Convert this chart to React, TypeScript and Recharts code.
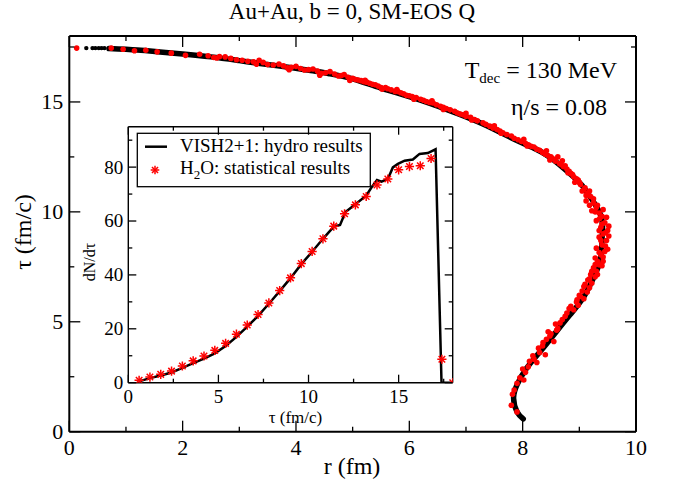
import React from 'react';
import { ComposedChart, Line, Scatter, XAxis, YAxis } from 'recharts';

const FONT = '"Liberation Serif", "Times New Roman", serif';

// freeze-out surface tau(r), hydro (black)
const surfaceR = [0.7, 1.2, 1.6, 2.0, 2.5, 3.0, 3.4, 4.0, 4.3, 4.6, 5.0, 5.5, 6.1, 6.7, 7.3, 7.9, 8.2, 8.5, 8.85, 9.05, 9.2, 9.37, 9.41, 9.4, 9.37, 9.25, 9.07, 8.84, 8.6, 8.31, 8.07, 7.9, 7.84, 7.9, 8.01];
const surfaceTau = [17.43, 17.36, 17.27, 17.18, 17.05, 16.88, 16.74, 16.53, 16.42, 16.28, 16.05, 15.63, 15.16, 14.62, 14.0, 13.24, 12.9, 12.45, 11.7, 11.2, 10.65, 9.9, 9.3, 8.7, 7.8, 7.0, 6.1, 5.33, 4.57, 3.65, 2.89, 2.13, 1.52, 0.91, 0.58];

// isolated hydro cells near the centre
const coreR = [0.3, 0.41, 0.46, 0.52, 0.57, 0.62];
const coreTau = [17.45, 17.45, 17.45, 17.45, 17.45, 17.45];

// statistical (H2O) emission points (red)
const statPoints: [number, number][] = [
  [0.13, 17.45], [0.74, 17.45], [0.95, 17.4], [1.15, 17.33], [1.35, 17.35], [1.55, 17.28], [1.8, 17.22], [2.05, 17.12],
  [2.3, 17.17], [2.6, 17.0], [2.75, 17.05], [2.95, 16.92], [3.15, 16.85], [3.35, 16.9], [3.5, 16.7], [3.7, 16.72],
  [3.85, 16.55], [4.0, 16.62], [4.15, 16.45], [4.3, 16.5], [4.45, 16.3], [4.6, 16.38], [4.75, 16.18], [4.85, 16.25],
  [5.0, 16.08], [5.1, 16.0], [5.2, 15.92], [5.3, 15.85], [5.4, 15.78], [5.5, 15.66], [5.62, 15.6], [5.75, 15.48],
  [5.85, 15.42], [5.95, 15.3], [6.05, 15.25], [6.2, 15.12], [6.3, 15.02], [6.42, 14.95], [6.55, 14.8], [6.65, 14.7],
  [6.8, 14.58], [6.9, 14.45], [7.0, 14.35], [7.15, 14.2], [7.3, 14.05], [7.42, 13.9], [7.55, 13.75], [7.65, 13.6],
  [7.8, 13.45], [7.92, 13.28], [8.05, 13.12], [8.15, 12.98], [8.25, 12.85], [8.35, 12.7], [8.45, 12.55], [8.55, 12.4],
  [8.62, 12.5], [8.65, 12.2], [8.72, 12.05], [8.78, 11.95], [8.85, 11.75], [8.9, 11.6], [8.98, 11.45], [9.02, 11.25],
  [9.1, 11.1], [9.05, 10.95], [9.15, 10.85], [9.2, 10.7], [9.12, 10.5], [9.25, 10.4], [9.3, 10.2], [9.22, 10.05],
  [9.35, 9.95], [9.4, 9.8], [9.3, 9.6], [9.45, 9.5], [9.38, 9.3], [9.5, 9.15], [9.42, 9.0], [9.35, 8.85],
  [9.48, 8.7], [9.4, 8.5], [9.3, 8.35], [9.45, 8.2], [9.38, 8.05], [9.28, 7.9], [9.42, 7.75], [9.35, 7.6],
  [9.25, 7.45], [9.3, 7.3], [9.2, 7.15], [9.28, 7.05], [9.15, 6.9], [9.1, 6.7], [9.18, 6.55], [9.05, 6.4],
  [9.0, 6.2], [9.08, 6.05], [8.95, 5.9], [8.85, 5.7], [8.9, 5.55], [8.78, 5.4], [8.7, 5.1], [8.58, 4.9],
  [8.62, 4.7], [8.5, 4.45], [8.42, 4.2], [8.55, 4.1], [8.35, 3.9], [8.3, 3.6], [8.4, 3.5], [8.2, 3.3],
  [8.25, 3.15], [8.1, 2.95], [8.05, 2.7], [7.95, 2.45], [7.9, 2.2], [7.85, 1.9], [7.82, 1.7], [7.8, 1.2], [7.9, 0.9],
  [2.45, 17.1], [2.55, 17.02], [2.65, 17.06], [2.85, 16.98], [3.05, 16.9], [3.25, 16.83], [3.42, 16.8], [3.6, 16.68],
  [3.78, 16.64], [3.92, 16.58], [4.08, 16.52], [4.22, 16.47], [4.38, 16.4], [4.52, 16.33], [4.68, 16.27], [4.8, 16.2],
  [4.92, 16.12], [5.05, 16.02], [5.15, 15.97], [5.25, 15.9], [5.35, 15.8], [5.45, 15.72], [5.58, 15.65], [5.68, 15.55],
  [5.8, 15.47], [5.9, 15.37], [6.0, 15.28], [6.12, 15.2], [6.25, 15.08], [6.36, 14.98], [6.48, 14.87], [6.6, 14.76],
  [6.72, 14.64], [6.85, 14.5], [6.95, 14.42], [7.08, 14.3], [7.2, 14.14], [7.35, 13.98], [7.48, 13.82], [7.6, 13.68],
  [7.72, 13.52], [7.85, 13.35], [7.98, 13.2], [8.1, 13.05], [8.2, 12.95], [8.3, 12.8], [8.4, 12.62], [8.5, 12.5],
  [8.58, 12.3], [8.68, 12.15], [8.75, 12.1], [8.82, 11.85], [8.88, 11.7], [8.95, 11.5], [8.92, 11.35], [9.0, 11.35],
  [9.08, 11.0], [9.18, 10.95], [9.12, 10.75], [9.25, 10.6], [9.18, 10.3], [9.32, 10.3], [9.28, 10.0], [9.42, 10.1],
  [9.36, 9.7], [9.48, 9.75], [9.4, 9.45], [9.52, 9.35], [9.35, 9.15], [9.46, 9.05], [9.52, 8.9], [9.38, 8.7],
  [9.46, 8.45], [9.5, 8.3], [9.35, 8.15], [9.42, 7.95], [9.32, 7.75], [9.4, 7.55], [9.28, 7.6], [9.22, 7.3],
  [9.32, 7.15], [9.18, 6.95], [9.22, 6.75], [9.08, 6.6], [9.14, 6.35], [9.02, 6.15], [8.96, 6.0], [8.98, 5.75],
  [8.82, 5.6], [8.75, 5.25], [8.66, 4.95], [8.6, 4.62], [8.48, 4.35], [8.45, 4.55], [8.36, 4.05], [8.28, 3.8],
  [8.18, 3.45], [8.12, 3.2], [8.0, 2.85], [8.02, 2.35],
  [3.3, 16.72], [3.88, 16.47], [4.42, 16.22], [4.95, 15.98], [5.52, 15.58], [6.08, 15.12], [6.6, 14.66], [7.1, 14.18],
  [7.62, 13.58], [8.08, 13.0], [8.48, 12.36], [8.8, 11.78], [5.22, 15.99], [5.78, 15.56], [6.4, 15.05], [7.0, 14.48],
  [7.5, 13.92], [8.02, 13.3], [8.42, 12.78], [8.7, 12.32],
];

// inset: dN/dtau
const hydroDN: [number, number][] = [
  [0.6, 0.5], [1.2, 1.7], [1.8, 2.7], [2.4, 3.8], [3.0, 5.5], [3.6, 7.3], [4.2, 8.9], [4.8, 10.9], [5.4, 13.6],
  [6.0, 17.0], [6.6, 20.8], [7.2, 24.8], [7.8, 29.3], [8.4, 34.0], [9.0, 38.8], [9.6, 44.0], [10.2, 48.6],
  [10.8, 53.4], [11.4, 57.9], [11.75, 58.5], [12.05, 63.3], [12.6, 66.2], [13.2, 69.4], [13.5, 72.5], [13.8, 75.2],
  [14.05, 74.6], [14.4, 75.6], [14.68, 79.9], [14.96, 81.2], [15.33, 82.4], [15.79, 82.8], [16.16, 84.9],
  [16.62, 85.2], [17.05, 86.6], [17.38, 0], [18.0, 0],
];
const statTau = [0.6, 1.2, 1.8, 2.4, 3.0, 3.6, 4.2, 4.8, 5.4, 6.0, 6.6, 7.2, 7.8, 8.4, 9.0, 9.6, 10.2, 10.8, 11.4, 12.0, 12.6, 13.2, 13.8, 14.4, 15.0, 15.6, 16.2, 16.8, 17.4, 18.0];
const statDN = [0.9, 2.1, 3.1, 4.3, 6.2, 8.1, 9.9, 12.0, 14.6, 18.0, 21.4, 25.3, 29.6, 34.2, 38.9, 44.2, 48.7, 53.4, 58.1, 62.7, 66.0, 69.1, 73.4, 75.6, 79.0, 80.2, 80.5, 83.2, 8.7, 0.0];

const mainXTicks = [0, 1, 2, 3, 4, 5, 6, 7, 8, 9, 10];
const mainYTicks = [0, 2.5, 5, 7.5, 10, 12.5, 15, 17.5];
const insetXTicks = [0, 2.5, 5, 7.5, 10, 12.5, 15, 17.5];
const insetYTicks = [0, 10, 20, 30, 40, 50, 60, 70, 80, 90];

const zip = (xs: number[], ys: number[]) => xs.map((x, i) => ({ x, y: ys[i] }));
const fromPairs = (p: [number, number][]) => p.map(([x, y]) => ({ x, y }));

const isMultiple = (v: number, step: number) => Math.abs(v / step - Math.round(v / step)) < 1e-6;

// inward ticks, xmgrace style
function makeTick(side: 'bottom' | 'left' | 'top' | 'right', step: number, major: number, minor: number, fontSize: number, labels: boolean, offset: number) {
  return (props: any) => {
    const { x, y, payload } = props;
    const v = payload.value;
    const isMajor = isMultiple(v, step);
    const len = isMajor ? major : minor;
    let line;
    if (side === 'bottom') line = <line x1={x} y1={y} x2={x} y2={y - len} />;
    else if (side === 'top') line = <line x1={x} y1={y} x2={x} y2={y + len} />;
    else if (side === 'left') line = <line x1={x} y1={y} x2={x + len} y2={y} />;
    else line = <line x1={x} y1={y} x2={x - len} y2={y} />;
    return (
      <g>
        <g stroke="#000" strokeWidth={1.3}>{line}</g>
        {labels && isMajor && (
          side === 'bottom' ? (
            <text x={x} y={y + offset} textAnchor="middle" fontSize={fontSize} fontFamily={FONT} fill="#000">{v}</text>
          ) : (
            <text x={x - offset} y={y + fontSize * 0.34} textAnchor="end" fontSize={fontSize} fontFamily={FONT} fill="#000">{v}</text>
          )
        )}
      </g>
    );
  };
}

const axisLine = { stroke: '#000', strokeWidth: 2 };
const thinAxis = { stroke: '#000', strokeWidth: 1.4 };

function Asterisk({ cx, cy, size = 4.6 }: { cx: number; cy: number; size?: number }) {
  const d = size * 0.707;
  return (
    <g stroke="#ff0000" strokeWidth={1.5}>
      <line x1={cx - size} y1={cy} x2={cx + size} y2={cy} />
      <line x1={cx} y1={cy - size} x2={cx} y2={cy + size} />
      <line x1={cx - d} y1={cy - d} x2={cx + d} y2={cy + d} />
      <line x1={cx - d} y1={cy + d} x2={cx + d} y2={cy - d} />
    </g>
  );
}

function MainChart() {
  return (
    <ComposedChart width={683} height={485} margin={{ top: 35, right: 46, left: 29.3, bottom: 23.3 }}>
      <XAxis xAxisId="b" dataKey="x" type="number" domain={[0, 10]} ticks={mainXTicks} interval={0} tickSize={0} tickMargin={0} height={30}
        axisLine={axisLine} tickLine={false} tick={makeTick('bottom', 2, 11, 5, 22, true, 23)} allowDataOverflow />
      <XAxis xAxisId="t" orientation="top" dataKey="x" type="number" domain={[0, 10]} ticks={mainXTicks} interval={0} tickSize={0} tickMargin={0} height={1}
        axisLine={axisLine} tickLine={false} tick={makeTick('top', 2, 11, 5, 22, false, 0)} allowDataOverflow />
      <YAxis yAxisId="l" type="number" domain={[0, 18]} ticks={mainYTicks} interval={0} tickSize={0} tickMargin={0} width={40}
        axisLine={axisLine} tickLine={false} tick={makeTick('left', 5, 11, 5, 22, true, 6)} allowDataOverflow />
      <YAxis yAxisId="r" orientation="right" type="number" domain={[0, 18]} ticks={mainYTicks} interval={0} tickSize={0} tickMargin={0} width={1}
        axisLine={axisLine} tickLine={false} tick={makeTick('right', 5, 11, 5, 22, false, 0)} allowDataOverflow />
      <Line xAxisId="b" yAxisId="l" data={zip(surfaceR, surfaceTau)} dataKey="y" type="natural" dot={false} stroke="#000"
        strokeWidth={5.5} strokeLinecap="round" strokeLinejoin="round" isAnimationActive={false} />
      <Scatter xAxisId="b" yAxisId="l" data={zip(coreR, coreTau)} dataKey="y" isAnimationActive={false}
        shape={(p: any) => <circle cx={p.cx} cy={p.cy} r={2.2} fill="#000" />} />
      <Scatter xAxisId="b" yAxisId="l" data={fromPairs(statPoints)} dataKey="y" isAnimationActive={false}
        shape={(p: any) => <circle cx={p.cx} cy={p.cy} r={2.8} fill="#ff0000" />} />
    </ComposedChart>
  );
}

function InsetChart() {
  return (
    <ComposedChart width={390} height={300} margin={{ top: 15.7, right: 16.3, left: 18.3, bottom: 7.3 }}>
      <XAxis xAxisId="b" dataKey="x" type="number" domain={[0, 18]} ticks={insetXTicks} interval={0} tickSize={0} tickMargin={0} height={20}
        axisLine={thinAxis} tickLine={false} tick={makeTick('bottom', 5, 8, 4, 19, true, 20)} allowDataOverflow />
      <XAxis xAxisId="t" orientation="top" dataKey="x" type="number" domain={[0, 18]} ticks={insetXTicks} interval={0} tickSize={0} tickMargin={0} height={1}
        axisLine={thinAxis} tickLine={false} tick={makeTick('top', 5, 8, 4, 19, false, 0)} allowDataOverflow />
      <YAxis yAxisId="l" type="number" domain={[0, 95]} ticks={insetYTicks} interval={0} tickSize={0} tickMargin={0} width={30}
        axisLine={thinAxis} tickLine={false} tick={makeTick('left', 20, 8, 4, 19, true, 5)} allowDataOverflow />
      <YAxis yAxisId="r" orientation="right" type="number" domain={[0, 95]} ticks={insetYTicks} interval={0} tickSize={0} tickMargin={0} width={1}
        axisLine={thinAxis} tickLine={false} tick={makeTick('right', 20, 8, 4, 19, false, 0)} allowDataOverflow />
      <Line xAxisId="b" yAxisId="l" data={fromPairs(hydroDN)} dataKey="y" type="linear" dot={false} stroke="#000"
        strokeWidth={2.5} isAnimationActive={false} />
      <Scatter xAxisId="b" yAxisId="l" data={zip(statTau, statDN)} dataKey="y" isAnimationActive={false}
        shape={(p: any) => <Asterisk cx={p.cx} cy={p.cy} />} />
    </ComposedChart>
  );
}

export default function App() {
  return (
    <div style={{ position: 'absolute', left: 0, top: 0, width: 683, height: 485, background: '#fff' }}>
      <div style={{ position: 'absolute', left: 0, top: 0 }}>
        <MainChart />
      </div>
      <div style={{ position: 'absolute', left: 80, top: 110 }}>
        <InsetChart />
      </div>
      <svg width={683} height={485} style={{ position: 'absolute', left: 0, top: 0, pointerEvents: 'none' }} fontFamily={FONT}>
        <text x={352} y={19} textAnchor="middle" fontSize={23}>Au+Au, b = 0, SM-EOS Q</text>
        <text x={617} y={78} textAnchor="end" fontSize={24}>
          T<tspan fontSize={15} dy={5}>dec</tspan><tspan dy={-5}> = 130 MeV</tspan>
        </text>
        <text x={607} y={115} textAnchor="end" fontSize={24}>η/s = 0.08</text>
        <text x={352} y={474} textAnchor="middle" fontSize={24}>r (fm)</text>
        <text transform="translate(31,232) rotate(-90)" textAnchor="middle" fontSize={24}>τ (fm/c)</text>
        <text transform="translate(95,262) rotate(-90)" textAnchor="middle" fontSize={16}>dN/dτ</text>
        <text x={295.5} y={423} textAnchor="middle" fontSize={17}>τ (fm/c)</text>
        {/* legend */}
        <rect x={137.3} y={133.3} width={233} height={53.4} fill="none" stroke="#000" strokeWidth={1.3} />
        <line x1={145} y1={146.7} x2={167} y2={146.7} stroke="#000" strokeWidth={2.5} />
        <text x={180} y={152} fontSize={19}>VISH2+1: hydro results</text>
        <Asterisk cx={155} cy={170} size={4.3} />
        <text x={180} y={174} fontSize={19}>H<tspan fontSize={13} dy={5}>2</tspan><tspan dy={-5}>O: statistical results</tspan></text>
      </svg>
    </div>
  );
}
